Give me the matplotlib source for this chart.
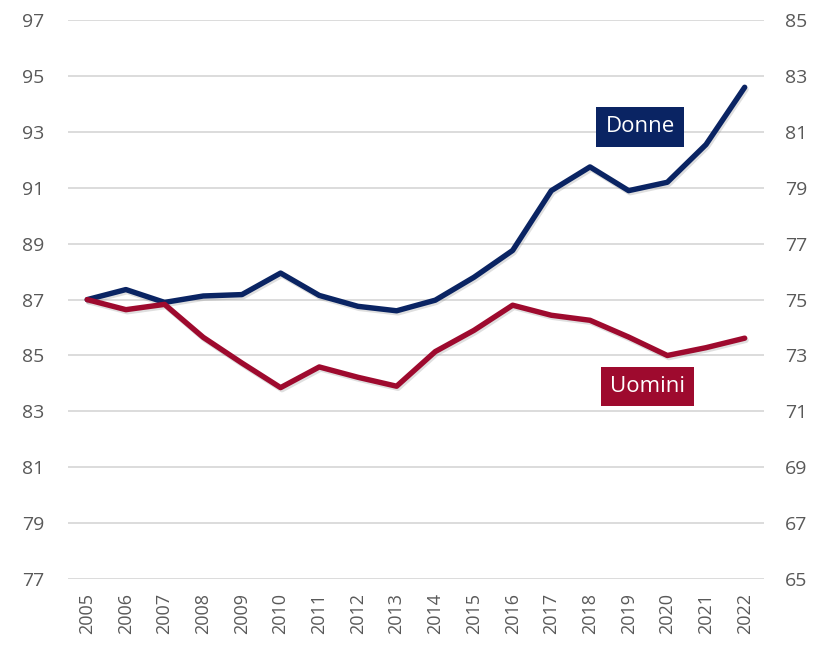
import matplotlib.pyplot as plt
import matplotlib.patheffects as pe

# dati
anni = [str(a) for a in range(2005, 2023)]
donne = [87.0, 87.36, 86.9, 87.13, 87.18, 87.95, 87.15, 86.76, 86.6, 86.98,
         87.8, 88.76, 90.9, 91.75, 90.9, 91.2, 92.55, 94.6]
uomini = [75.0, 74.64, 74.83, 73.65, 72.73, 71.85, 72.59, 72.22, 71.9, 73.14,
          73.9, 74.8, 74.44, 74.26, 73.66, 73.0, 73.28, 73.62]

blu = '#0A2463'
rosso = '#9E0A2E'
grigio = '#595959'

plt.rcParams['font.family'] = ['Open Sans', 'DejaVu Sans']

fig = plt.figure(figsize=(8.18, 6.46), dpi=100)
ax = fig.add_axes([0.083, 0.1037, 0.851, 0.865])
ax2 = ax.twinx()

x = range(len(anni))
ombra = [pe.SimpleLineShadow(offset=(1, -1.5), alpha=0.25, shadow_color='gray'), pe.Normal()]
ax.plot(x, donne, color=blu, lw=3.9, solid_capstyle='round', solid_joinstyle='round',
        path_effects=ombra, zorder=3)
ax2.plot(x, uomini, color=rosso, lw=3.9, solid_capstyle='round', solid_joinstyle='round',
         path_effects=ombra, zorder=3)

ax.set_xlim(-0.5, len(anni) - 0.5)
ax.set_ylim(77, 97)
ax2.set_ylim(65, 85)
ax.set_yticks(range(77, 98, 2))
ax2.set_yticks(range(65, 86, 2))
ax.set_xticks(list(x))
ax.set_xticklabels(anni, rotation=90)

ax.grid(axis='y', color='#D9D9D9', lw=1.3)
ax.set_axisbelow(True)
for a in (ax, ax2):
    for s in a.spines.values():
        s.set_visible(False)
    a.tick_params(length=0, labelsize=14, labelcolor=grigio)
ax.tick_params(axis='y', pad=17)
ax2.tick_params(axis='y', pad=15)
ax.tick_params(axis='x', pad=10, labelsize=13)

ax.text(14.3, 93.19, 'Donne', color='white', fontsize=16, ha='center', va='center',
        bbox=dict(boxstyle='square,pad=0.42', fc=blu, ec='none'), zorder=5)
ax2.text(14.49, 71.89, 'Uomini', color='white', fontsize=16, ha='center', va='center',
         bbox=dict(boxstyle='square,pad=0.42', fc=rosso, ec='none'), zorder=5)

fig.savefig('out.png', dpi=100)
